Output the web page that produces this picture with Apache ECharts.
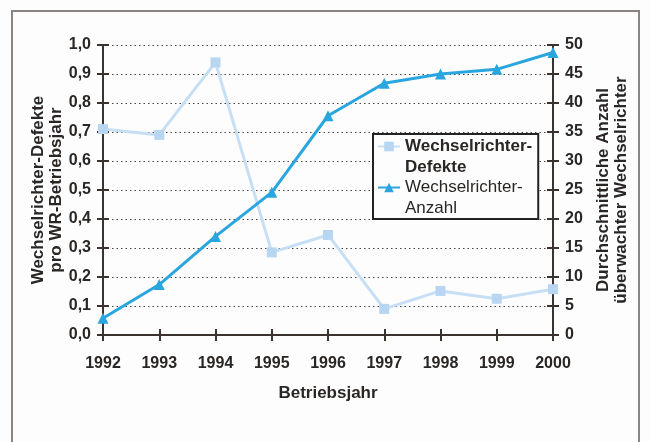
<!DOCTYPE html>
<html>
<head>
<meta charset="utf-8">
<script src="https://cdn.jsdelivr.net/npm/echarts@6/dist/echarts.min.js"></script>
<style>
  html, body { margin: 0; padding: 0; background: #fdfdfd; }
  #chart { width: 651px; height: 442px; }
</style>
</head>
<body>
<div id="chart"></div>
<script>
// Daten
var jahre = ['1992', '1993', '1994', '1995', '1996', '1997', '1998', '1999', '2000'];
var defekte = [0.71, 0.69, 0.94, 0.285, 0.345, 0.09, 0.152, 0.125, 0.158];
var anzahl = [2.9, 8.7, 17.0, 24.6, 37.8, 43.4, 45.0, 45.8, 48.7];

var achsFarbe = '#3b3330';
var textFarbe = '#2a2624';
var schrift = 'Liberation Sans, Arial, sans-serif';

var myChart = echarts.init(document.getElementById('chart'));

function komma(v) {
	return v.toFixed(1).replace('.', ',');
}

var option = {
	backgroundColor: '#fdfdfd',
	animation: false,
	textStyle: { fontFamily: schrift },
	graphic: [{
		type: 'rect',
		shape: { x: 12, y: 11, width: 627, height: 445 },
		style: { fill: 'none', stroke: '#8a8482', lineWidth: 2 },
		silent: true
	}, {
		// zweite Zeile der Legendeneinträge (Symbol steht auf Höhe der ersten Zeile)
		type: 'text', left: 405, top: 159, z: 10, silent: true,
		style: { text: 'Defekte', fontSize: 17, fontWeight: 'bold', fill: textFarbe, fontFamily: schrift }
	}, {
		type: 'text', left: 405, top: 200, z: 10, silent: true,
		style: { text: 'Anzahl', fontSize: 17, fontWeight: 'normal', fill: textFarbe, fontFamily: schrift }
	}],
	grid: { left: 103, right: 98, top: 45, bottom: 107 },
	legend: {
		orient: 'vertical',
		left: 373,
		top: 134,
		padding: [3, 6, 22, 4],
		itemGap: 22,
		itemWidth: 22,
		itemHeight: 12,
		borderColor: '#222',
		borderWidth: 2,
		backgroundColor: '#fdfdfd',
		formatter: function(name) {
			return name.split('-')[0] + '-';
		},
		textStyle: { fontSize: 17, lineHeight: 19, color: textFarbe, fontFamily: schrift },
		data: [
			{ name: 'Wechselrichter-Defekte', textStyle: { fontWeight: 'bold' } },
			{ name: 'Wechselrichter-Anzahl', textStyle: { fontWeight: 'normal' } }
		]
	},
	xAxis: [{
		type: 'category',
		data: jahre,
		boundaryGap: false,
		name: 'Betriebsjahr',
		nameLocation: 'middle',
		nameGap: 50,
		nameTextStyle: { fontSize: 17, fontWeight: 'bold', color: textFarbe },
		axisLine: { lineStyle: { color: achsFarbe, width: 2 } },
		axisTick: { length: 6, lineStyle: { color: achsFarbe, width: 2 } },
		axisLabel: { fontSize: 16, fontWeight: 'bold', color: textFarbe, margin: 21 }
	}, {
		// Striche nach innen (Teilstriche kreuzen die Achse)
		type: 'category',
		data: jahre,
		boundaryGap: false,
		position: 'bottom',
		axisLine: { show: false },
		axisTick: { inside: true, length: 6, lineStyle: { color: achsFarbe, width: 2 } },
		axisLabel: { show: false }
	}],
	yAxis: [{
		type: 'value',
		min: 0, max: 1, interval: 0.1,
		name: 'Wechselrichter-Defekte\npro WR-Betriebsjahr',
		nameLocation: 'middle',
		nameGap: 38,
		nameMoveOverlap: false,
		nameTextStyle: { fontSize: 17, fontWeight: 'bold', color: textFarbe, lineHeight: 18 },
		axisLine: { show: true, lineStyle: { color: achsFarbe, width: 2 } },
		axisTick: { show: true, length: 6, lineStyle: { color: achsFarbe, width: 2 } },
		axisLabel: { fontSize: 16, fontWeight: 'bold', color: textFarbe, margin: 12, formatter: komma },
		splitLine: { show: true, lineStyle: { color: '#4a4442', width: 1.2, type: [1.5, 3] } }
	}, {
		type: 'value',
		min: 0, max: 50, interval: 5,
		position: 'right',
		name: 'Durchschnittliche Anzahl\nüberwachter Wechselrichter',
		nameLocation: 'middle',
		nameGap: 41,
		nameMoveOverlap: false,
		nameRotate: 90,
		nameTextStyle: { fontSize: 17, fontWeight: 'bold', color: textFarbe, lineHeight: 18 },
		axisLine: { show: true, lineStyle: { color: achsFarbe, width: 2 } },
		axisTick: { show: true, length: 6, lineStyle: { color: achsFarbe, width: 2 } },
		axisLabel: { fontSize: 16, fontWeight: 'bold', color: textFarbe, margin: 12 },
		splitLine: { show: false }
	}, {
		type: 'value',
		min: 0, max: 1, interval: 0.1,
		position: 'left',
		axisLine: { show: false },
		axisTick: { show: true, inside: true, length: 6, lineStyle: { color: achsFarbe, width: 2 } },
		axisLabel: { show: false },
		splitLine: { show: false }
	}, {
		type: 'value',
		min: 0, max: 50, interval: 5,
		position: 'right',
		axisLine: { show: false },
		axisTick: { show: true, inside: true, length: 6, lineStyle: { color: achsFarbe, width: 2 } },
		axisLabel: { show: false },
		splitLine: { show: false }
	}],
	series: [{
		name: 'Wechselrichter-Defekte',
		type: 'line',
		yAxisIndex: 0,
		data: defekte,
		symbol: 'rect',
		symbolSize: 10,
		lineStyle: { color: '#c6dff4', width: 3 },
		itemStyle: { color: '#b8d6f1' }
	}, {
		name: 'Wechselrichter-Anzahl',
		type: 'line',
		yAxisIndex: 1,
		data: anzahl,
		symbol: 'triangle',
		symbolSize: 11,
		lineStyle: { color: '#29a6df', width: 3 },
		itemStyle: { color: '#29a6df' }
	}]
};

myChart.setOption(option);
</script>
</body>
</html>
